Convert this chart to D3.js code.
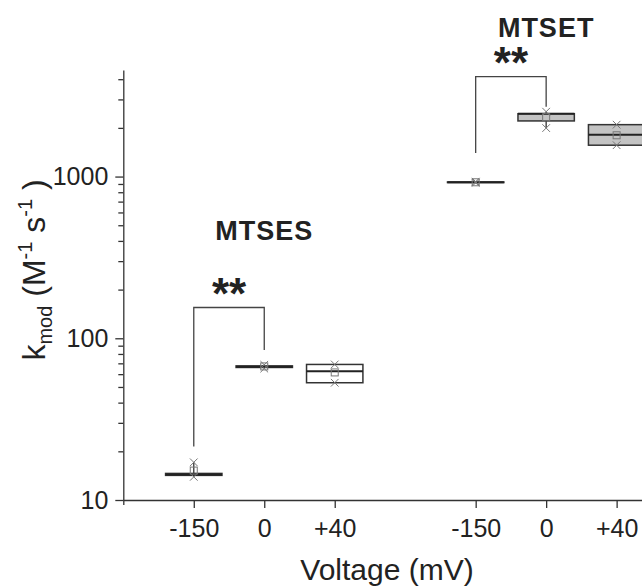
<!DOCTYPE html>
<html>
<head>
<meta charset="utf-8">
<script src="https://cdn.jsdelivr.net/npm/d3@7"></script>
<style>
  body { margin: 0; background: #fff; }
  svg { display: block; font-family: "Liberation Sans", Arial, sans-serif; }
</style>
</head>
<body>
<svg id="chart" width="642" height="587"></svg>
<script>
// x positions of each box (category slots on a linear axis, gap at 4)
const positions = [1, 2, 3, 5, 6, 7];
const voltageLabels = ['-150', '0', '+40', '-150', '0', '+40'];
const reagent = ['MTSES', 'MTSES', 'MTSES', 'MTSET', 'MTSET', 'MTSET'];

// box statistics, k_mod in M^-1 s^-1
const minVals = [13.9, 65, 53.1, 915, 1995, 1563];
const q1Vals = [14.2, 66, 53.1, 918, 2208, 1563];
const medianVals = [14.4, 66.7, 62.5, 922, 2447, 1815];
const q3Vals = [14.6, 67.5, 68.9, 926, 2447, 2094];
const maxVals = [17.1, 68.5, 68.9, 930, 2518, 2094];
const meanVals = [15.2, 67, 61.5, 922, 2328, 1800];

// significance brackets: left leg bottom, top bar, right leg bottom
const brackets = [
  { x1: 1, x2: 2, yl: 21.4, yt: 155, yr: 84.7, label: '**' },
  { x1: 5, x2: 6, yl: 1400, yt: 4150, yr: 2700, label: '**' }
];
const groupTitles = [
  { text: 'MTSES', x: 2, y: 405 },
  { text: 'MTSET', x: 6, y: 7300 }
];

const yTicks = [10, 100, 1000];
const yMinor = [20, 30, 40, 50, 60, 70, 80, 90, 200, 300, 400, 500, 600, 700, 800, 900, 2000, 3000, 4000];

const svg = d3.select('#chart');

const x = d3.scaleLinear().domain([0, 7.36]).range([123.3, 642]);
const y = d3.scaleLog().domain([10, 4560]).range([500, 70]);
const halfW = x(0.4) - x(0);

const fillFor = r => r === 'MTSET' ? '#c3c3c3' : '#ffffff';

// y axis
const yAxis = svg.append('g')
  .attr('transform', `translate(${x(0)},0)`)
  .call(d3.axisLeft(y).tickValues(yTicks).tickFormat(d3.format('d')).tickSize(8).tickPadding(7).tickSizeOuter(0));
yAxis.append('g')
  .call(d3.axisLeft(y).tickValues(yMinor).tickFormat('').tickSize(5).tickSizeOuter(0))
  .select('.domain').remove();

// x axis
const xAxis = svg.append('g')
  .attr('transform', `translate(0,${y(10)})`)
  .call(d3.axisBottom(x).tickValues([0].concat(positions))
    .tickFormat(d => d === 0 ? '' : voltageLabels[positions.indexOf(d)])
    .tickSize(8).tickPadding(11).tickSizeOuter(0));

svg.selectAll('.tick text')
  .attr('font-size', 25)
  .attr('fill', '#222')
  .attr('font-family', '"Liberation Sans", Arial, sans-serif');
svg.selectAll('.domain, .tick line').attr('stroke', '#333').attr('stroke-width', 1.3);
xAxis.selectAll('.tick line').filter(d => d === 0).attr('y2', 5);

// axis titles
svg.append('text')
  .attr('x', 387)
  .attr('y', 580)
  .attr('text-anchor', 'middle')
  .attr('font-size', 30)
  .attr('fill', '#222')
  .text('Voltage (mV)');

const yLab = svg.append('text')
  .attr('transform', 'translate(45,270) rotate(-90)')
  .attr('text-anchor', 'middle')
  .attr('font-size', 32)
  .attr('fill', '#222');
yLab.append('tspan').text('k');
yLab.append('tspan').attr('font-size', 20).attr('baseline-shift', '-7').text('mod');
yLab.append('tspan').text(' (M');
yLab.append('tspan').attr('font-size', 20).attr('baseline-shift', '13').text('-1');
yLab.append('tspan').text(' s');
yLab.append('tspan').attr('font-size', 20).attr('baseline-shift', '13').text('-1');
yLab.append('tspan').text(' )');

// boxes
const idx = d3.range(positions.length);
const boxes = svg.append('g').selectAll('g').data(idx).join('g');

boxes.append('line')
  .attr('x1', i => x(positions[i])).attr('x2', i => x(positions[i]))
  .attr('y1', i => y(minVals[i])).attr('y2', i => y(maxVals[i]))
  .attr('stroke', '#333').attr('stroke-width', 1.3);

boxes.append('rect')
  .attr('x', i => x(positions[i]) - halfW)
  .attr('width', halfW * 2)
  .attr('y', i => y(q3Vals[i]))
  .attr('height', i => Math.max(0.5, y(q1Vals[i]) - y(q3Vals[i])))
  .attr('fill', i => fillFor(reagent[i]))
  .attr('stroke', '#333').attr('stroke-width', 1.5);

boxes.append('line')
  .attr('x1', i => x(positions[i]) - halfW).attr('x2', i => x(positions[i]) + halfW)
  .attr('y1', i => y(medianVals[i])).attr('y2', i => y(medianVals[i]))
  .attr('stroke', '#222').attr('stroke-width', 2);

// mean square
boxes.append('rect')
  .attr('x', i => x(positions[i]) - 3.5)
  .attr('y', i => y(meanVals[i]) - 3.5)
  .attr('width', 7).attr('height', 7)
  .attr('fill', 'none').attr('stroke', '#777').attr('stroke-width', 1);

// min / max crosses
const cross = d3.symbol().type(d3.symbolX).size(40);
['min', 'max'].forEach(k => {
  const vals = k === 'min' ? minVals : maxVals;
  boxes.append('path')
    .attr('d', cross)
    .attr('transform', i => `translate(${x(positions[i])},${y(vals[i])})`)
    .attr('fill', 'none').attr('stroke', '#777').attr('stroke-width', 1);
});

// significance brackets
brackets.forEach(b => {
  svg.append('path')
    .attr('d', `M${x(b.x1)},${y(b.yl)}V${y(b.yt)}H${x(b.x2)}V${y(b.yr)}`)
    .attr('fill', 'none').attr('stroke', '#444').attr('stroke-width', 1.3);
  svg.append('text')
    .attr('x', (x(b.x1) + x(b.x2)) / 2)
    .attr('y', y(b.yt) + 1)
    .attr('text-anchor', 'middle')
    .attr('font-size', 44)
    .attr('font-weight', 'bold')
    .attr('fill', '#222')
    .text(b.label);
});

groupTitles.forEach(t => {
  svg.append('text')
    .attr('x', x(t.x))
    .attr('y', y(t.y))
    .attr('text-anchor', 'middle')
    .attr('font-size', 27)
    .attr('font-weight', 'bold')
    .attr('letter-spacing', 1)
    .attr('fill', '#222')
    .text(t.text);
});
</script>
</body>
</html>
